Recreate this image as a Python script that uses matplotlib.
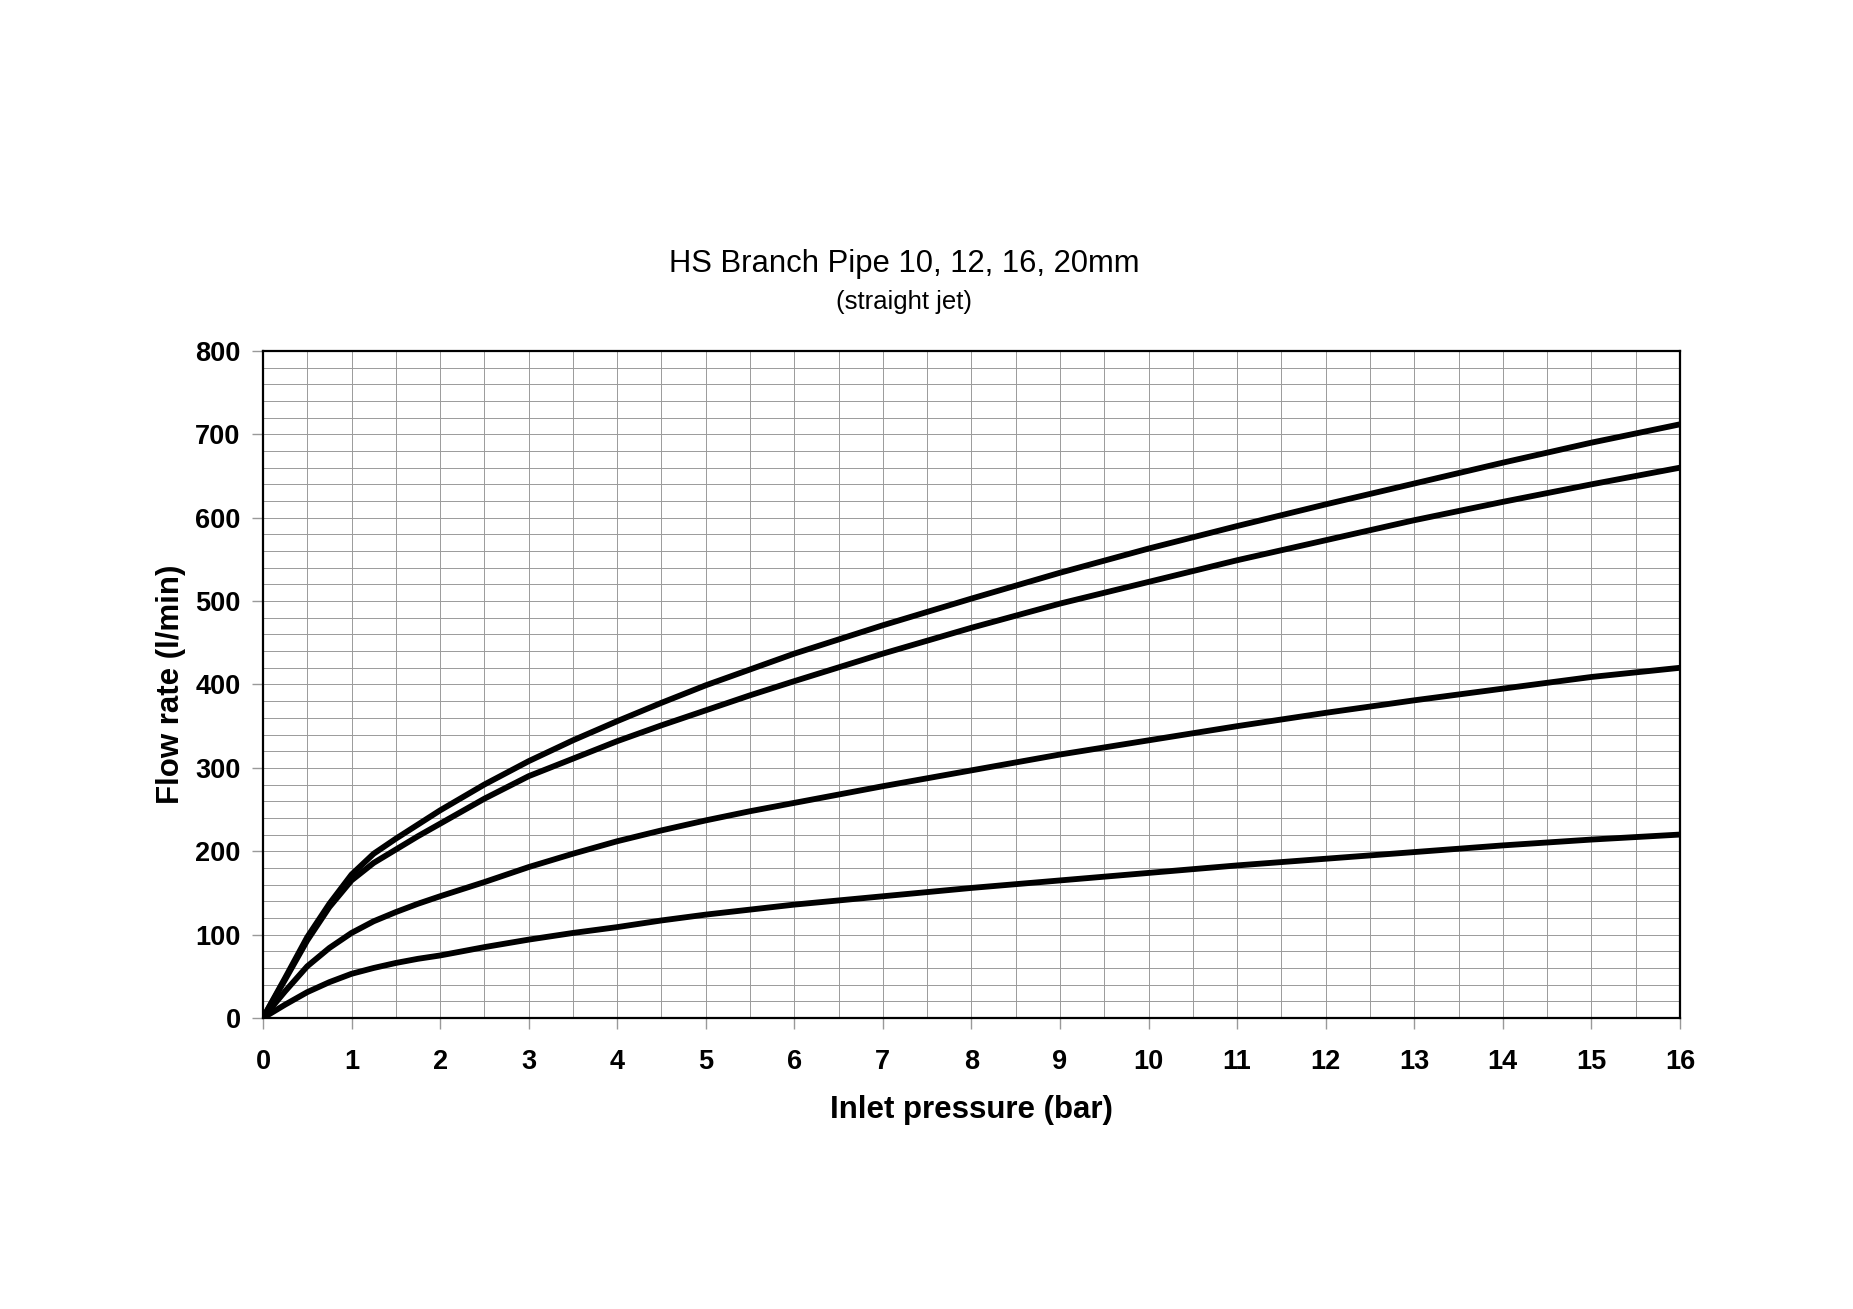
import matplotlib
matplotlib.use("Agg")
import matplotlib.pyplot as plt
from matplotlib.ticker import MultipleLocator

# Inlet pressure (bar)
pressure = [0, 0.25, 0.5, 0.75, 1, 1.25, 1.5, 1.75, 2, 2.5, 3, 3.5, 4, 4.5,
            5, 5.5, 6, 7, 8, 9, 10, 11, 12, 13, 14, 15, 16]

# Flow rate (l/min), one list per nozzle size
flow_20mm = [0, 48, 97, 137, 172, 197, 215, 232, 249, 280, 308, 333, 356,
             378, 399, 418, 437, 471, 503, 534, 563, 590, 616, 641, 666,
             690, 712]
flow_16mm = [0, 46, 93, 133, 165, 186, 202, 218, 233, 263, 290, 311, 332,
             351, 369, 387, 404, 437, 468, 497, 523, 549, 573, 597, 619,
             640, 660]
flow_12mm = [0, 32, 62, 84, 102, 116, 127, 137, 146, 163, 181, 197, 212,
             225, 237, 248, 258, 278, 297, 316, 333, 350, 366, 381, 395,
             409, 420]
flow_10mm = [0, 16, 31, 43, 53, 60, 66, 71, 75, 85, 94, 102, 109, 117, 124,
             130, 136, 146, 156, 165, 174, 183, 191, 199, 207, 214, 220]

x_ticks = list(range(0, 17))
y_ticks = list(range(0, 801, 100))

plt.rcParams['font.family'] = ['Liberation Sans', 'DejaVu Sans']

fig = plt.figure(figsize=(18.53, 13.09), dpi=100)
ax = fig.add_axes([0.1419, 0.2223, 0.9066 - 0.1419, 0.7319 - 0.2223])

for flow in [flow_20mm, flow_16mm, flow_12mm, flow_10mm]:
    ax.plot(pressure, flow, color='black', lw=4.2, solid_capstyle='round',
            solid_joinstyle='round', zorder=3)

ax.set_xlim(0, 16)
ax.set_ylim(0, 800)
ax.set_xticks(x_ticks)
ax.set_yticks(y_ticks)
ax.xaxis.set_minor_locator(MultipleLocator(0.5))
ax.yaxis.set_minor_locator(MultipleLocator(20))

# raster wie op millimeterpapier
ax.grid(which='both', color='#9a9a9a', lw=0.7)
ax.set_axisbelow(True)

ax.tick_params(which='major', direction='out', length=8, width=1,
               color='#999999', labelsize=19.5)
ax.tick_params(axis='x', which='major', pad=14)
ax.tick_params(axis='y', which='major', pad=8)
ax.tick_params(which='minor', length=0)
for lbl in ax.get_xticklabels() + ax.get_yticklabels():
    lbl.set_fontweight('bold')

for s in ax.spines.values():
    s.set_linewidth(1.6)
    s.set_color('black')

ax.set_xlabel('Inlet pressure (bar)', fontsize=22.5, fontweight='bold', labelpad=15)
ax.set_ylabel('Flow rate (l/min)', fontsize=22.5, fontweight='bold', labelpad=7)

fig.text(0.488, 0.798, 'HS Branch Pipe 10, 12, 16, 20mm', ha='center',
         va='center', fontsize=22.3)
fig.text(0.488, 0.769, '(straight jet)', ha='center', va='center', fontsize=18.5)

fig.savefig('out.png', dpi=100)
